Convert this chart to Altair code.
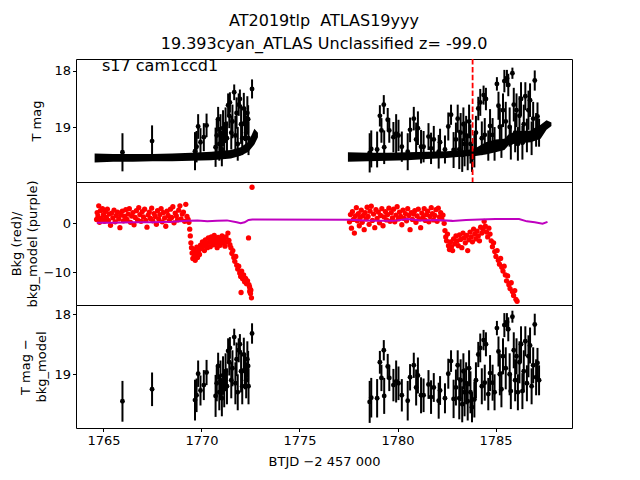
import altair as alt
import pandas as pd

# ---------------- data ----------------
# error-bar points (time, mag, half error) shared by panel 1 and panel 3
err_t = [1765.97, 1767.48, 1769.67, 1769.75, 1769.83, 1769.95, 1770.12, 1770.26, 1770.72, 1770.78,
         1770.85, 1770.91, 1770.97, 1771.04, 1771.10, 1771.16, 1771.23, 1771.30, 1771.36, 1771.42,
         1771.45, 1771.52, 1771.58, 1771.67, 1771.73, 1771.79, 1771.85, 1771.90, 1771.96, 1772.02,
         1772.08, 1772.16, 1772.22, 1772.28, 1772.34, 1772.38, 1772.40, 1772.58,
         1778.58, 1778.66, 1778.96, 1779.10, 1779.18, 1779.30, 1779.32, 1779.50, 1779.58, 1779.79,
         1779.93, 1780.05, 1780.22, 1780.52, 1780.64, 1780.83, 1780.95, 1781.04, 1781.20, 1781.33,
         1781.58, 1781.71, 1781.85, 1782.10, 1782.17, 1782.42, 1782.59, 1782.73, 1782.86, 1782.98,
         1783.07, 1783.15, 1783.22, 1783.30, 1783.36, 1783.42, 1783.50, 1783.58, 1783.65, 1783.72,
         1783.80, 1783.92, 1784.00, 1784.12, 1784.22, 1784.30, 1784.39, 1784.45, 1784.51, 1784.63,
         1784.72, 1784.85, 1784.95, 1785.07, 1785.15, 1785.22, 1785.30, 1785.38, 1785.45, 1785.52,
         1785.58, 1785.65, 1785.72, 1785.78, 1785.86, 1785.93, 1786.00, 1786.07, 1786.14, 1786.22,
         1786.30, 1786.37, 1786.44, 1786.52, 1786.60, 1786.68, 1786.76, 1786.84, 1786.92, 1787.00,
         1787.07, 1787.14, 1787.22]
err_mag = [19.45, 19.25, 19.43, 19.35, 18.99, 19.27, 19.18, 18.97, 19.36, 19.15,
           18.86, 19.30, 19.10, 19.40, 19.02, 19.25, 18.95, 19.20, 18.61, 18.80,
           18.56, 19.10, 18.90, 18.38, 19.15, 18.75, 19.30, 18.60, 18.50, 18.95,
           19.20, 18.67, 18.95, 19.10, 18.75, 18.86, 19.20, 18.32,
           19.46, 19.39, 19.40, 18.80, 19.06, 18.60, 19.36, 18.87, 19.06, 19.18,
           19.12, 19.15, 19.35, 19.44, 19.05, 18.85, 19.22, 19.02, 19.35, 19.35,
           19.17, 19.38, 19.22, 19.44, 19.27, 19.40, 18.99, 18.78, 19.41, 19.22,
           18.85, 19.40, 19.10, 19.50, 18.95, 19.30, 19.15, 19.45, 18.90, 19.30,
           19.55, 19.42, 19.10, 18.67, 18.56, 19.20, 18.43, 19.14, 18.50, 19.33,
           18.98, 19.14, 19.30, 18.23, 18.62, 19.00, 19.25, 18.70, 18.18, 18.90,
           18.13, 18.25, 19.00, 19.28, 18.04, 18.60, 19.10, 18.70, 19.30, 18.80,
           18.50, 19.28, 18.95, 18.45, 19.15, 18.70, 18.52, 19.20, 18.85, 18.17,
           19.05, 18.81, 19.10]
err_e = [0.34, 0.28, 0.34, 0.28, 0.22, 0.25, 0.25, 0.21, 0.35, 0.30,
         0.22, 0.30, 0.33, 0.30, 0.32, 0.30, 0.30, 0.30, 0.21, 0.22,
         0.18, 0.30, 0.30, 0.14, 0.35, 0.28, 0.30, 0.20, 0.17, 0.35,
         0.30, 0.28, 0.30, 0.30, 0.30, 0.25, 0.30, 0.17,
         0.35, 0.33, 0.32, 0.19, 0.22, 0.17, 0.30, 0.21, 0.22, 0.27,
         0.35, 0.28, 0.27, 0.33, 0.22, 0.21, 0.30, 0.30, 0.30, 0.28,
         0.24, 0.28, 0.24, 0.30, 0.24, 0.25, 0.25, 0.18, 0.32, 0.30,
         0.25, 0.35, 0.35, 0.30, 0.30, 0.40, 0.35, 0.32, 0.30, 0.35,
         0.25, 0.30, 0.30, 0.21, 0.24, 0.30, 0.17, 0.30, 0.20, 0.27,
         0.30, 0.30, 0.30, 0.12, 0.25, 0.35, 0.30, 0.30, 0.20, 0.35,
         0.15, 0.20, 0.35, 0.30, 0.10, 0.30, 0.35, 0.30, 0.30, 0.35,
         0.30, 0.30, 0.35, 0.25, 0.30, 0.35, 0.30, 0.30, 0.30, 0.18,
         0.30, 0.25, 0.25]

# dense 2-min cadence band in panel 1 (bright edge / faint edge)
band_t = [1764.55, 1765.5, 1766.5, 1767.5, 1768.5, 1769.5, 1770.5, 1771.5, 1772.0, 1772.4, 1772.7, 1772.88,
          1777.47, 1778.5, 1779.5, 1780.5, 1781.5, 1782.5, 1783.5, 1783.9, 1784.5, 1785.0, 1785.45,
          1785.7, 1786.2, 1786.8, 1787.3, 1787.6, 1787.85]
band_hi = [19.47, 19.48, 19.48, 19.48, 19.47, 19.46, 19.44, 19.41, 19.36, 19.26, 19.03, 19.10,
           19.45, 19.46, 19.46, 19.45, 19.44, 19.43, 19.41, 19.39, 19.27, 19.22, 19.21,
           19.12, 19.07, 19.06, 18.96, 18.88, 18.92]
band_lo = [19.63, 19.62, 19.62, 19.61, 19.61, 19.60, 19.59, 19.56, 19.51, 19.44, 19.31, 19.18,
           19.62, 19.61, 19.60, 19.59, 19.57, 19.55, 19.52, 19.52, 19.49, 19.45, 19.41,
           19.31, 19.29, 19.27, 19.21, 19.05, 18.98]
band_seg = [1] * 12 + [2] * 17

# background flux (red points)
bkg_t = [1764.65, 1764.68, 1764.72, 1764.76, 1764.80, 1764.85, 1764.90, 1764.95, 1765.00, 1765.05,
         1765.10, 1765.15, 1765.20, 1765.25, 1765.30, 1765.36, 1765.42, 1765.48, 1765.54, 1765.60,
         1765.66, 1765.72, 1765.78, 1765.84, 1765.90, 1765.96, 1766.02, 1766.08, 1766.14, 1766.20,
         1766.26, 1766.32, 1766.38, 1766.44, 1766.50, 1766.56, 1766.62, 1766.68, 1766.74, 1766.80,
         1766.86, 1766.92, 1766.98, 1767.04, 1767.10, 1767.16, 1767.22, 1767.28, 1767.34, 1767.40,
         1767.46, 1767.52, 1767.58, 1767.64, 1767.70, 1767.76, 1767.82, 1767.88, 1767.94, 1768.00,
         1768.06, 1768.12, 1768.18, 1768.24, 1768.30, 1768.36, 1768.42, 1768.48, 1768.54, 1768.60,
         1768.66, 1768.72, 1768.78, 1768.84, 1768.90, 1768.96, 1769.02, 1769.08, 1769.14, 1769.20,
         1769.26, 1769.32, 1769.36, 1769.40, 1769.43, 1769.46, 1769.49, 1769.52, 1769.56, 1769.60,
         1769.64, 1769.68, 1769.72, 1769.76, 1769.80, 1769.85, 1769.90, 1769.95, 1770.00, 1770.05,
         1770.10, 1770.15, 1770.20, 1770.25, 1770.30, 1770.35, 1770.40, 1770.45, 1770.50, 1770.55,
         1770.60, 1770.65, 1770.70, 1770.75, 1770.80, 1770.85, 1770.90, 1770.95, 1771.00, 1771.05,
         1771.10, 1771.15, 1771.20, 1771.25, 1771.30, 1771.35, 1771.40, 1771.45, 1771.50, 1771.55,
         1771.60, 1771.65, 1771.70, 1771.75, 1771.80, 1771.85, 1771.90, 1771.95, 1772.00, 1772.05,
         1772.10, 1772.15, 1772.20, 1772.25, 1772.30, 1772.35, 1772.40, 1772.42, 1772.45, 1772.02,
         1772.48, 1772.50, 1772.52, 1772.55, 1772.46, 1772.58,
         1777.55, 1777.60, 1777.65, 1777.70, 1777.75, 1777.80, 1777.85, 1777.90, 1777.95, 1778.00,
         1778.05, 1778.10, 1778.15, 1778.20, 1778.25, 1778.30, 1778.35, 1778.40, 1778.45, 1778.50,
         1778.55, 1778.60, 1778.66, 1778.72, 1778.78, 1778.84, 1778.90, 1778.96, 1779.02, 1779.08,
         1779.14, 1779.20, 1779.26, 1779.32, 1779.38, 1779.44, 1779.50, 1779.56, 1779.62, 1779.68,
         1779.74, 1779.80, 1779.86, 1779.92, 1779.98, 1780.04, 1780.10, 1780.16, 1780.22, 1780.28,
         1780.34, 1780.40, 1780.46, 1780.52, 1780.58, 1780.64, 1780.70, 1780.76, 1780.82, 1780.88,
         1780.94, 1781.00, 1781.06, 1781.12, 1781.18, 1781.24, 1781.30, 1781.36, 1781.42, 1781.48,
         1781.54, 1781.60, 1781.66, 1781.72, 1781.78, 1781.84, 1781.90, 1781.96, 1782.02, 1782.08,
         1782.14, 1782.20, 1782.26, 1782.32, 1782.38, 1782.42, 1782.46, 1782.50, 1782.55, 1782.60,
         1782.65, 1782.70, 1782.75, 1782.81, 1782.86, 1782.92, 1782.98, 1783.04, 1783.10, 1783.16,
         1783.22, 1783.28, 1783.34, 1783.40, 1783.46, 1783.52, 1783.58, 1783.64, 1783.70, 1783.76,
         1783.82, 1783.88, 1783.94, 1784.00, 1784.06, 1784.12, 1784.18, 1784.24, 1784.30, 1784.36,
         1784.42, 1784.48, 1784.54, 1784.60, 1784.66, 1784.72, 1784.78, 1784.84, 1784.90, 1784.96,
         1785.02, 1785.08, 1785.14, 1785.20, 1785.26, 1785.32, 1785.38, 1785.44, 1785.50, 1785.56,
         1785.62, 1785.68, 1785.74, 1785.80, 1785.86, 1785.92, 1785.98, 1786.04, 1786.10]
bkg_v = [0.8, 2.2, 1.5, 3.6, 0.2, 2.6, 1.0, 3.0, 1.8, 0.4,
         2.4, 1.2, 2.9, 0.6, 1.9, -0.4, 2.1, 1.1, 2.7, 0.3,
         1.6, 2.3, 0.9, -0.9, 1.7, 2.5, 0.5, 1.4, 2.8, 0.8,
         1.9, 3.0, 0.2, 1.5, 2.2, -0.3, 1.2, 2.6, 0.7, 3.2,
         1.8, 0.4, 2.4, 1.3, 2.9, 0.6, -0.8, 1.7, 2.3, 1.0,
         3.1, 0.5, 2.0, 1.4, -0.2, 2.6, 0.9, 1.8, 3.0, 0.3,
         2.2, 1.1, -0.6, 2.5, 1.6, 0.6, 2.9, 1.2, 3.4, 0.1,
         2.1, 1.5, 0.7, 2.7, 3.6, 0.9, 1.9, 2.3, 0.4, 3.9,
         1.4, 0.8, 0.2, -1.2, -2.6, -4.0, -5.0, -6.1, -7.2, -5.4,
         -6.6, -7.6, -6.0, -4.9, -7.0, -5.6, -6.4, -4.5, -5.2, -3.8,
         -4.6, -5.6, -3.4, -4.2, -5.0, -3.0, -3.9, -4.8, -2.8, -3.6,
         -4.4, -2.5, -3.3, -4.1, -5.0, -2.9, -3.7, -4.5, -3.1, -2.6,
         -4.0, -3.3, -4.7, -2.8, -3.8, -2.0, -3.5, -4.4, -5.0, -6.2,
         -5.6, -7.0, -7.8, -6.8, -8.6, -9.4, -8.8, -10.2, -10.9, -9.8,
         -11.4, -10.6, -12.0, -11.3, -12.4, -11.8, -3.0, -12.6, -13.0, -14.2,
         -13.5, -14.4, -13.7, -15.3, -14.0, 7.4,
         0.3, 1.8, -1.0, 2.4, 0.8, -2.0, 1.5, 3.2, 0.5, 2.0,
         -0.5, 1.2, 2.7, 0.2, 1.6, -1.3, 2.2, 0.9, 3.3, 1.4,
         -0.2, 2.5, 3.5, 0.6, 1.9, -0.9, 2.8, 1.0, 2.3, 0.1,
         1.6, 3.0, -0.5, 1.3, 2.4, 0.7, 1.8, 3.1, 0.4, 2.2,
         1.1, 2.9, 0.3, 1.7, 3.4, 0.9, 2.3, 1.4, -0.3, 2.7,
         1.0, 2.0, 0.5, 3.0, 1.6, -1.3, 2.2, 0.8, 1.9, 2.6,
         0.2, 1.5, 2.9, 0.9, -0.9, 2.1, 1.2, 3.0, 0.6, 1.8,
         2.5, 0.3, 1.4, 3.2, 2.0, 0.7, 1.6, 2.8, 0.4, 3.1,
         1.3, 2.2, 0.9, 1.7, 0.0, -1.5, -2.8, -3.6, -2.2, -4.6,
         -5.4, -3.8, -4.8, -5.6, -3.2, -4.2, -2.6, -3.6, -4.6, -2.4,
         -3.3, -5.0, -2.0, -3.0, -4.0, -2.5, -5.6, -3.4, -1.8, -2.8,
         -3.8, -1.2, -2.2, -3.2, -1.6, -2.6, -3.6, -0.8, -2.0, -1.2,
         0.4, -0.6, -1.8, -2.8, -1.0, -2.2, -3.6, -4.8, -4.0, -5.8,
         -6.8, -5.6, -7.6, -8.4, -7.2, -9.0, -9.8, -8.8, -10.6, -11.8,
         -10.8, -12.6, -13.4, -12.2, -14.0, -14.8, -13.8, -15.6, -16.0]

# background model (purple line)
model_t = [1764.66, 1765.5, 1766.5, 1767.5, 1768.5, 1769.3, 1769.8, 1770.3, 1770.8, 1771.3,
           1771.8, 1772.0, 1772.2, 1772.4, 1772.6, 1777.55, 1778.3, 1779.0, 1779.8, 1780.5,
           1781.2, 1782.0, 1782.8, 1783.5, 1784.2, 1785.0, 1785.8, 1786.2, 1786.6, 1787.0,
           1787.4, 1787.65]
model_v = [0.1, 0.1, 0.2, 0.2, 0.3, 0.5, 0.6, 0.4, 0.5, 0.6,
           0.2, 0.0, 0.2, 0.7, 0.8, 0.75, 0.6, 0.5, 0.5, 0.9,
           0.6, 0.7, 0.5, 0.7, 0.8, 0.9, 0.9, 0.9, 0.4, 0.2,
           -0.1, 0.3]

event_t = [1783.83]
x_ticks = [1765, 1770, 1775, 1780, 1785]

# ---------------- frames ----------------
err_df = pd.DataFrame({"t": err_t, "mag": err_mag, "e": err_e})
err_df["m_lo"] = err_df["mag"] - err_df["e"]
err_df["m_hi"] = err_df["mag"] + err_df["e"]
band_df = pd.DataFrame({"t": band_t, "hi": band_hi, "lo": band_lo, "seg": band_seg})
bkg_df = pd.DataFrame({"t": bkg_t, "v": bkg_v})
model_df = pd.DataFrame({"t": model_t, "v": model_v})
event_df = pd.DataFrame({"t": event_t})

FONT = "DejaVu Sans"
W, H = 496, 123
xdom = [1763.6, 1788.9]

def xenc(axis=None):
    return alt.X("t:Q", scale=alt.Scale(domain=xdom, nice=False, zero=False), axis=axis)

# panel 1
s1 = alt.Scale(domain=[17.786, 19.98], reverse=True, nice=False, zero=False)
ax1 = alt.Axis(values=[18, 19], format="d", title="T mag", titleX=-40, titleY=H / 2,
               titleAlign="center", titleBaseline="middle")
band = alt.Chart(band_df).mark_area(color="black", clip=True).encode(
    x=xenc(), y=alt.Y("lo:Q", scale=s1, axis=ax1), y2="hi:Q", detail="seg:N")
bars1 = alt.Chart(err_df).mark_rule(color="black", strokeWidth=2, clip=True).encode(
    x=xenc(), y=alt.Y("m_lo:Q", scale=s1, axis=ax1), y2="m_hi:Q")
pts1 = alt.Chart(err_df).mark_circle(color="black", size=24, opacity=1, clip=True).encode(
    x=xenc(), y=alt.Y("mag:Q", scale=s1, axis=ax1))
vline = alt.Chart(event_df).mark_rule(color="red", strokeWidth=1.8, strokeDash=[5.5, 2.4]).encode(
    x=xenc())
label = alt.Chart(event_df).mark_text(align="left", baseline="alphabetic", fontSize=16, font=FONT,
                                       color="black").encode(
    x=alt.value(26), y=alt.value(12), text=alt.value("s17 cam1ccd1"))
p1 = alt.layer(band, bars1, pts1, vline, label).properties(
    width=W, height=H,
    title=alt.TitleParams(["AT2019tlp \u00a0ATLAS19yyy", "19.393cyan_ATLAS Unclassified z= -99.0"],
                          fontSize=16, font=FONT, fontWeight="normal", anchor="middle",
                          lineHeight=23, offset=6, color="black"))

# panel 2
s2 = alt.Scale(domain=[-16.77, 8.48], nice=False, zero=False)
ax2 = alt.Axis(values=[0, -10], format="d", title=["Bkg (red)/", "bkg_model (purple)"],
               titleX=-60, titleY=H / 2, titleAlign="center", titleBaseline="middle",
               titleLineHeight=16)
red = alt.Chart(bkg_df).mark_circle(color="red", size=28, opacity=1, clip=True).encode(
    x=xenc(), y=alt.Y("v:Q", scale=s2, axis=ax2))
purple = alt.Chart(model_df).mark_line(color="#bf00bf", strokeWidth=2, clip=True).encode(
    x=xenc(), y=alt.Y("v:Q", scale=s2, axis=ax2))
p2 = alt.layer(red, purple).properties(width=W, height=H)

# panel 3
s3 = alt.Scale(domain=[17.845, 19.895], reverse=True, nice=False, zero=False)
ax3 = alt.Axis(values=[18, 19], format="d", title=["T mag \u2212", "bkg_model"],
               titleX=-51, titleY=H / 2, titleAlign="center", titleBaseline="middle",
               titleLineHeight=16)
xax = alt.Axis(values=x_ticks, format="d", title="BTJD \u22122 457 000", labelPadding=3,
               titlePadding=8)
bars3 = alt.Chart(err_df).mark_rule(color="black", strokeWidth=2, clip=True).encode(
    x=xenc(xax), y=alt.Y("m_lo:Q", scale=s3, axis=ax3), y2="m_hi:Q")
pts3 = alt.Chart(err_df).mark_circle(color="black", size=24, opacity=1, clip=True).encode(
    x=xenc(xax), y=alt.Y("mag:Q", scale=s3, axis=ax3))
p3 = alt.layer(bars3, pts3).properties(width=W, height=H)

chart = alt.vconcat(p1, p2, p3, spacing=0, bounds="flush").properties(
    padding={"left": 1, "top": 4, "right": 5, "bottom": 5},
    background="white"
).configure_view(stroke="black", strokeWidth=1).configure_concat(spacing=0).configure_axis(
    domain=False, grid=False, tickColor="black", tickSize=3.5, tickWidth=1,
    labelColor="black", labelFont=FONT, labelFontSize=13,
    titleColor="black", titleFont=FONT, titleFontSize=13, titleFontWeight="normal"
)

chart.save("out.html", embed_options={"renderer": "svg", "actions": False})
